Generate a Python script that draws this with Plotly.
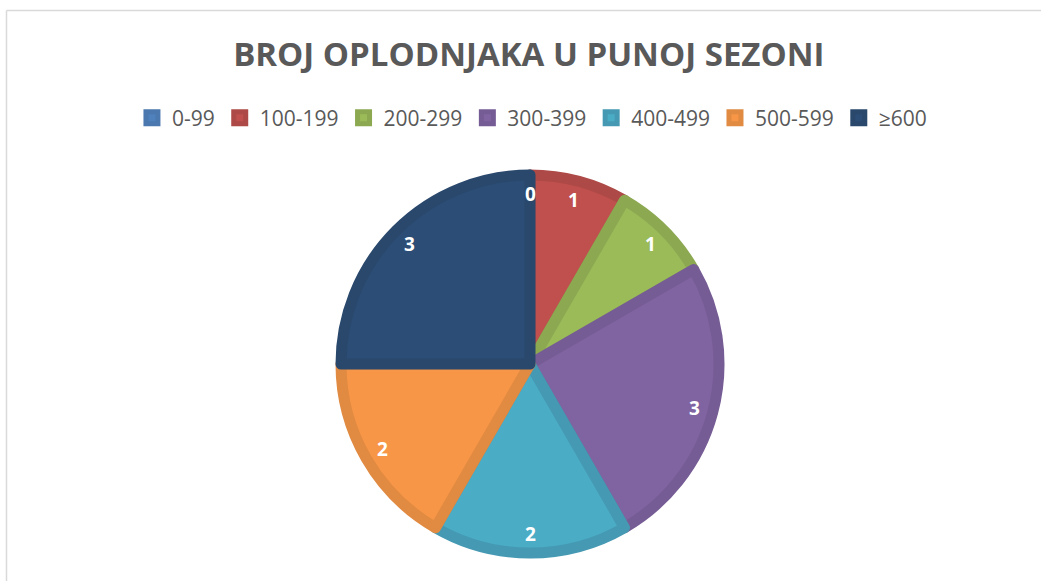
import math
import plotly.graph_objects as go

categories = ["0-99", "100-199", "200-299", "300-399", "400-499", "500-599", "≥600"]
values = [0, 1, 1, 3, 2, 2, 3]
fill_colors = ["#4F81BD", "#C0504D", "#9BBB59", "#8064A2", "#4BACC6", "#F79646", "#2C4D75"]
edge_colors = ["#4A78AF", "#AD4946", "#8CA952", "#765C95", "#4599B2", "#E08A42", "#2A486C"]
title_text = "BROJ OPLODNJAKA U PUNOJ SEZONI"

W, H = 1041, 581
cx, cy, r = 530, 364, 189        # pie centre / radius in pixels
label_r = 170                     # radius of the value labels

fig = go.Figure()
fig.add_trace(go.Pie(
    labels=categories,
    values=values,
    sort=False,
    direction="clockwise",
    rotation=0,
    marker=dict(colors=fill_colors, line=dict(color=edge_colors, width=11)),
    textinfo="none",
    domain=dict(x=[(cx - r) / W, (cx + r) / W], y=[(H - cy - r) / H, (H - cy + r) / H]),
    showlegend=True,
    hoverinfo="label+value",
))

# value labels placed along each slice's bisector (Excel style)
total = sum(values)
annotations = []
cum = 0
for v in values:
    mid = (cum + v / 2) / total * 2 * math.pi
    cum += v
    px = cx + label_r * math.sin(mid)
    py = cy - label_r * math.cos(mid)
    annotations.append(dict(
        x=px / W, y=1 - py / H, xref="paper", yref="paper", showarrow=False,
        text=str(v), xanchor="center", yanchor="middle",
        font=dict(family="Open Sans", size=19, color="white", weight="bold"),
    ))

fig.update_layout(
    width=W, height=H,
    margin=dict(l=0, r=0, t=0, b=0),
    paper_bgcolor="white",
    title=dict(text=title_text, x=0.508, xanchor="center", y=1 - 54 / H, yanchor="middle",
               font=dict(family="Open Sans", size=33, color="#595959", weight="bold")),
    legend=dict(orientation="h", x=0.511, xanchor="center", y=1 - 118 / H, yanchor="middle",
                font=dict(family="Open Sans", size=21, color="#595959"),
                itemwidth=30, traceorder="normal"),
    annotations=annotations,
    shapes=[
        dict(type="line", xref="paper", yref="paper", x0=6.5 / W, x1=1.0, y0=1 - 10.5 / H, y1=1 - 10.5 / H,
             line=dict(color="#D9D9D9", width=1.5)),
        dict(type="line", xref="paper", yref="paper", x0=6.5 / W, x1=6.5 / W, y0=0, y1=1 - 10.5 / H,
             line=dict(color="#D9D9D9", width=1.5)),
    ],
)

fig.write_html("out.html", config={"displayModeBar": False},
               post_script="document.body.style.margin='0';")
